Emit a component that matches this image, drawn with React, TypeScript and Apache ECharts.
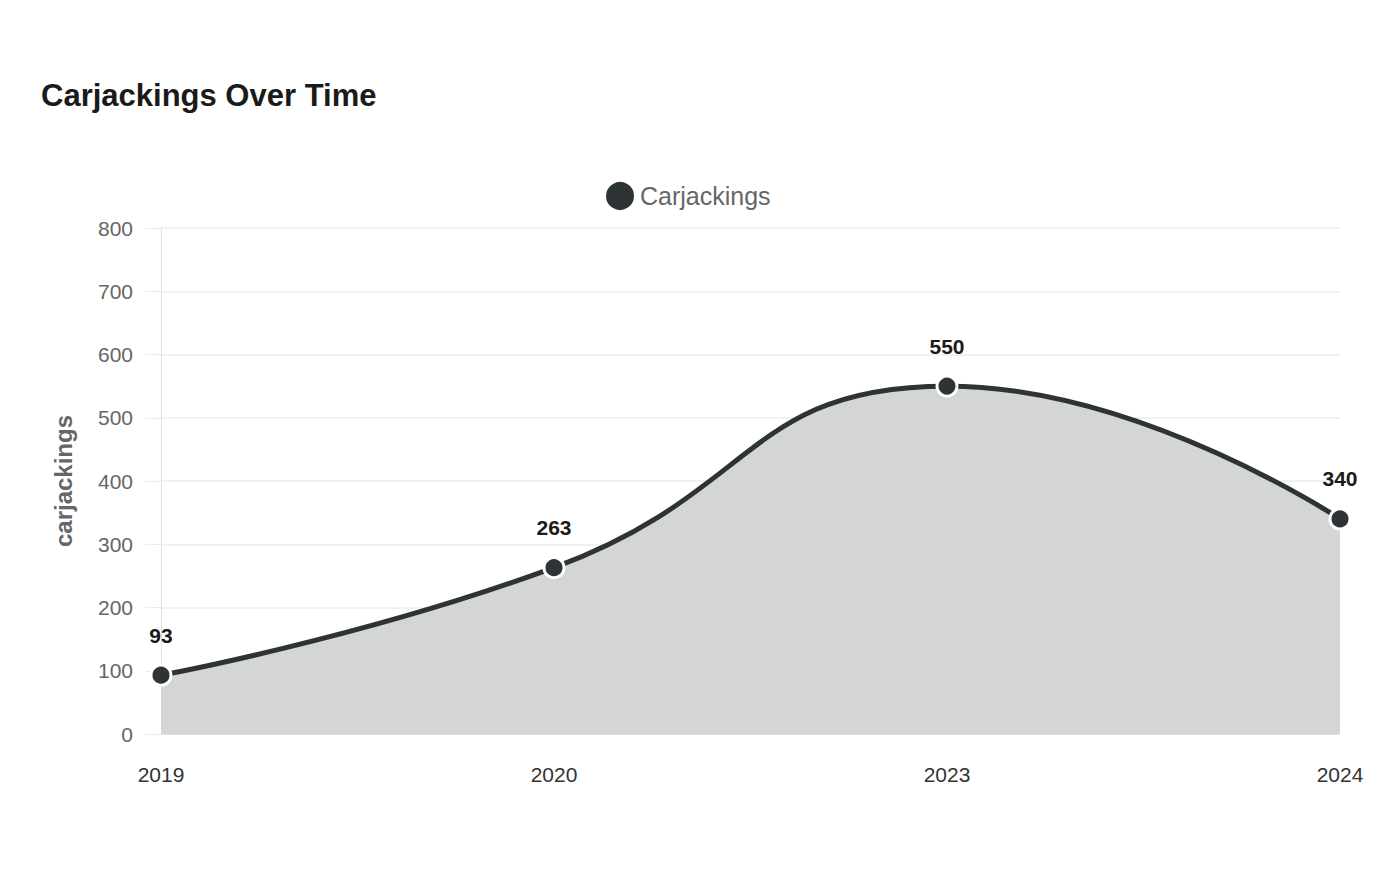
import React, { useEffect, useRef } from "react";
import * as echarts from "echarts";

const years = ["2019", "2020", "2023", "2024"];
const carjackings = [93, 263, 550, 340];
const yTicks = { min: 0, max: 800, interval: 100 };

const FONT = "Liberation Sans, Arial, sans-serif";

export default function App() {
  const ref = useRef<HTMLDivElement>(null);
  useEffect(() => {
    const chart = echarts.init(ref.current!, null, { renderer: "svg" });
    chart.setOption({
      animation: false,
      backgroundColor: "#ffffff",
      title: {
        text: "Carjackings Over Time",
        left: 36,
        top: 75,
        textStyle: { fontFamily: FONT, fontSize: 31, fontWeight: "bold", color: "#1a1a1a" },
      },
      legend: {
        top: 180,
        left: 604,
        padding: 0,
        icon: "circle",
        itemWidth: 30,
        itemHeight: 30,
        itemGap: 13,
        textStyle: { fontFamily: FONT, fontSize: 25, color: "#666666" },
        data: ["Carjackings"],
      },
      grid: { left: 161, right: 60, top: 228, bottom: 146, containLabel: false },
      xAxis: {
        type: "category",
        data: years,
        boundaryGap: false,
        axisLine: { show: true, lineStyle: { color: "#e0e0e0" } },
        axisTick: { show: false },
        axisLabel: { fontFamily: FONT, fontSize: 21, color: "#333333", margin: 30 },
        splitLine: { show: false },
      },
      yAxis: {
        type: "value",
        min: yTicks.min,
        max: yTicks.max,
        interval: yTicks.interval,
        name: "carjackings",
        nameLocation: "middle",
        nameGap: 86,
        nameTextStyle: { fontFamily: FONT, fontSize: 24, fontWeight: "bold", color: "#666666" },
        axisLine: { show: true, lineStyle: { color: "#e0e0e0" } },
        axisTick: { show: true, length: 16, lineStyle: { color: "#ececec" } },
        axisLabel: { fontFamily: FONT, fontSize: 21, color: "#666666", margin: 28 },
        splitLine: { show: true, lineStyle: { color: "#ececec", width: 1.5 } },
      },
      series: [
        {
          name: "Carjackings",
          type: "line",
          data: carjackings,
          smooth: 0.5,
          symbol: "circle",
          symbolSize: 20,
          color: "#2e3336",
          lineStyle: { color: "#2e3336", width: 5 },
          itemStyle: { color: "#2e3336", borderColor: "#ffffff", borderWidth: 3 },
          areaStyle: { color: "#d4d5d5", opacity: 1 },
          label: {
            show: true,
            position: "top",
            distance: 18,
            fontFamily: FONT,
            fontSize: 21,
            fontWeight: "bold",
            color: "#1a1a1a",
          },
        },
      ],
    });
    return () => chart.dispose();
  }, []);
  return <div ref={ref} style={{ position: "fixed", left: 0, top: 0, width: 1400, height: 880 }} />;
}
